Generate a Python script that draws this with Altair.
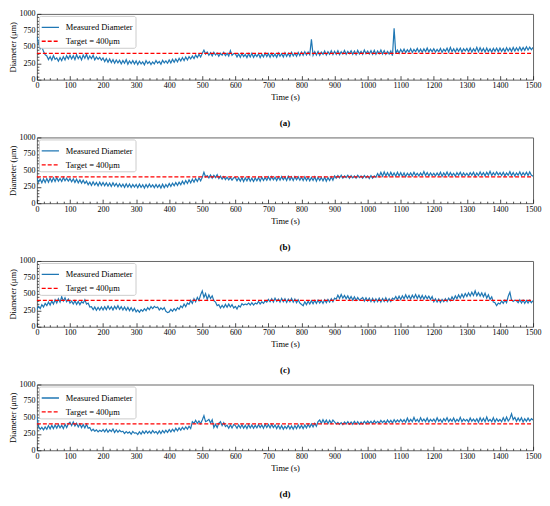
import altair as alt
import pandas as pd

# ---------------- data ----------------
time_s = list(range(0, 1501, 5))

diam_a = [
    650, 560, 470, 500, 430, 380, 360, 305, 350, 295, 365, 310, 330, 280, 335, 290, 350, 300, 365, 315,
    370, 315, 365, 305, 380, 320, 360, 300, 375, 325, 385, 310, 360, 320, 370, 300, 345, 310, 340, 295,
    330, 275, 320, 265, 315, 260, 305, 250, 300, 255, 295, 240, 290, 250, 305, 235, 285, 245, 290, 240,
    285, 230, 280, 240, 270, 225, 290, 245, 275, 230, 270, 240, 290, 250, 275, 235, 295, 255, 285, 250,
    300, 255, 310, 265, 315, 270, 325, 285, 335, 290, 345, 300, 350, 315, 360, 320, 375, 335, 385, 345,
    400, 450, 390, 420, 370, 410, 360, 415, 375, 405, 355, 400, 370, 415, 365, 400, 360, 440, 370, 395,
    395, 345, 390, 340, 400, 350, 385, 335, 395, 345, 400, 340, 385, 350, 395, 335, 390, 345, 405, 350,
    395, 340, 400, 350, 390, 340, 405, 355, 395, 345, 410, 355, 400, 350, 415, 360, 405, 355, 415, 365,
    420, 370, 425, 375, 420, 380, 615, 370, 425, 375, 430, 370, 420, 385, 435, 375, 425, 385, 440, 380,
    430, 385, 440, 380, 425, 390, 445, 385, 430, 395, 440, 385, 435, 380, 445, 390, 430, 385, 450, 395,
    435, 390, 440, 385, 445, 385, 435, 395, 450, 390, 440, 385, 430, 390, 435, 365, 780, 395, 450, 400,
    460, 415, 465, 410, 455, 420, 470, 415, 460, 425, 475, 420, 465, 415, 470, 425, 480, 420, 465, 425,
    470, 420, 460, 425, 475, 415, 465, 430, 480, 420, 490, 425, 470, 420, 475, 430, 480, 420, 470, 435,
    475, 425, 480, 420, 470, 430, 490, 425, 485, 430, 475, 420, 480, 425, 470, 420, 475, 430, 480, 425,
    480, 430, 475, 425, 485, 435, 480, 430, 490, 435, 485, 440, 495, 440, 490, 445, 500, 450, 495, 455,
    490,
]

diam_b = [
    380, 320, 365, 310, 370, 315, 375, 320, 380, 325, 385, 330, 390, 335, 375, 330, 390, 340, 380, 335,
    375, 325, 370, 315, 365, 310, 355, 305, 350, 300, 335, 280, 320, 270, 325, 275, 315, 265, 320, 270,
    315, 265, 310, 260, 305, 255, 310, 260, 300, 250, 295, 250, 290, 240, 295, 245, 290, 240, 285, 245,
    285, 235, 290, 240, 280, 230, 285, 240, 290, 245, 280, 235, 285, 240, 280, 230, 290, 235, 285, 245,
    300, 255, 305, 265, 315, 270, 320, 280, 335, 290, 345, 300, 355, 310, 365, 320, 375, 330, 385, 340,
    395, 470, 400, 420, 385, 430, 380, 425, 390, 435, 375, 410, 365, 405, 360, 395, 355, 390, 350, 385,
    390, 340, 385, 335, 390, 330, 385, 340, 395, 335, 380, 330, 385, 340, 390, 335, 395, 345, 390, 350,
    400, 350, 405, 355, 395, 345, 400, 350, 405, 355, 400, 345, 410, 350, 400, 345, 405, 355, 400, 350,
    395, 345, 400, 345, 395, 340, 390, 345, 400, 335, 395, 345, 390, 340, 395, 335, 390, 345, 400, 350,
    415, 380, 420, 385, 425, 380, 415, 390, 425, 380, 420, 385, 415, 380, 425, 390, 415, 380, 420, 385,
    415, 375, 420, 380, 415, 395, 450, 405, 470, 410, 475, 415, 465, 410, 470, 415, 460, 410, 470, 415,
    465, 410, 460, 405, 455, 420, 460, 415, 470, 420, 455, 415, 460, 420, 480, 420, 465, 415, 460, 420,
    455, 415, 460, 420, 470, 410, 460, 420, 475, 415, 465, 420, 455, 410, 465, 425, 470, 415, 460, 420,
    455, 415, 465, 425, 470, 410, 460, 420, 475, 425, 465, 415, 470, 425, 485, 420, 465, 425, 475, 430,
    465, 420, 470, 415, 460, 425, 480, 420, 465, 415, 460, 425, 475, 420, 465, 425, 470, 420, 475, 425,
    410,
]

diam_c = [
    260, 310, 275, 335, 300, 355, 320, 375, 330, 390, 345, 410, 360, 425, 375, 455, 390, 440, 380, 420,
    360, 390, 345, 395, 340, 385, 335, 380, 360, 410, 345, 360, 300, 305, 260, 300, 250, 295, 255, 300,
    255, 305, 260, 315, 265, 305, 255, 310, 270, 320, 265, 305, 255, 300, 250, 295, 245, 290, 240, 280,
    225, 255, 220, 260, 235, 275, 245, 290, 260, 305, 275, 310, 290, 300, 255, 285, 260, 290, 235, 215,
    225, 265, 235, 275, 245, 290, 265, 315, 290, 345, 305, 360, 340, 400, 355, 425, 380, 445, 400, 485,
    545, 445, 505, 415, 485, 430, 470, 395, 375, 320, 335, 285, 325, 290, 340, 295, 345, 300, 335, 285,
    310, 270, 320, 300, 350, 330, 345, 335, 360, 330, 365, 330, 360, 345, 385, 345, 380, 355, 395, 375,
    415, 380, 425, 375, 435, 385, 420, 375, 430, 380, 425, 370, 420, 380, 430, 375, 420, 365, 410, 360,
    340, 320, 380, 335, 390, 345, 395, 350, 400, 355, 405, 360, 400, 355, 410, 365, 415, 375, 425, 380,
    435, 420, 480, 430, 490, 435, 475, 425, 470, 415, 460, 405, 455, 400, 445, 405, 425, 445, 390, 440,
    390, 435, 380, 430, 375, 425, 380, 435, 375, 430, 385, 440, 380, 425, 385, 435, 415, 460, 410, 465,
    415, 470, 425, 485, 430, 475, 420, 480, 435, 490, 430, 480, 425, 475, 420, 470, 425, 465, 415, 460,
    380, 425, 375, 420, 370, 415, 380, 425, 385, 435, 395, 455, 410, 470, 425, 485, 435, 495, 445, 505,
    460, 515, 465, 525, 475, 545, 470, 520, 465, 515, 455, 510, 435, 485, 415, 455, 375, 365, 320, 360,
    345, 390, 355, 405, 365, 465, 525, 405, 385, 405, 395, 365, 410, 360, 405, 355, 400, 360, 405, 365,
    395,
]

diam_d = [
    510, 360, 320, 350, 310, 355, 320, 375, 325, 380, 330, 385, 335, 390, 340, 380, 330, 395, 345, 400,
    425, 375, 430, 370, 410, 355, 400, 345, 390, 340, 395, 335, 345, 295, 320, 290, 310, 280, 305, 285,
    315, 280, 320, 275, 310, 285, 325, 270, 310, 275, 305, 280, 290, 255, 285, 260, 280, 245, 285, 260,
    265, 240, 280, 245, 290, 255, 295, 260, 290, 255, 300, 265, 285, 250, 295, 255, 300, 265, 305, 270,
    315, 280, 320, 285, 335, 295, 340, 305, 350, 315, 355, 320, 365, 330, 435, 410, 455, 410, 445, 405,
    460, 525, 435, 450, 470, 415, 465, 345, 395, 345, 410, 435, 375, 420, 360, 380, 335, 385, 340, 390,
    375, 335, 385, 340, 390, 335, 380, 330, 390, 340, 385, 335, 380, 340, 390, 345, 385, 335, 395, 345,
    390, 340, 395, 345, 385, 330, 380, 325, 375, 320, 365, 330, 380, 325, 370, 320, 375, 330, 385, 335,
    380, 330, 385, 340, 395, 350, 400, 355, 410, 365, 435, 460, 410, 465, 415, 460, 405, 455, 410, 460,
    430, 400, 425, 395, 420, 390, 430, 400, 435, 395, 430, 395, 440, 400, 435, 395, 430, 400, 440, 405,
    445, 410, 440, 405, 450, 415, 440, 410, 455, 420, 450, 410, 460, 420, 455, 415, 465, 425, 460, 430,
    470, 430, 465, 425, 490, 430, 470, 435, 500, 440, 470, 430, 495, 440, 475, 435, 490, 430, 470, 440,
    475, 430, 495, 440, 470, 425, 480, 445, 495, 435, 475, 440, 490, 430, 470, 440, 500, 435, 475, 445,
    470, 430, 490, 440, 475, 435, 480, 425, 495, 440, 485, 435, 505, 440, 470, 435, 495, 430, 480, 440,
    470, 435, 495, 440, 505, 445, 480, 555, 465, 500, 440, 490, 445, 495, 430, 480, 440, 490, 445, 480,
    460,
]

target_um = 400
target_t = [0, 1500]
series_names = ["Measured Diameter", "Target = 400μm"]
series_colors = ["#1f77b4", "#ff0000"]
panel_labels = ["(a)", "(b)", "(c)", "(d)"]
x_major = list(range(0, 1501, 100))
x_minor = [v for v in range(0, 1501, 20) if v % 100]
y_major = [0, 250, 500, 750, 1000]
y_minor = [v for v in range(0, 1001, 50) if v % 250]

FONT = "Liberation Serif"
W, H = 498, 66


def panel(vals, label):
    meas = pd.DataFrame({"t": time_s, "d": vals, "s": series_names[0]})
    targ = pd.DataFrame({"t": target_t, "d": [target_um] * len(target_t), "s": series_names[1]})
    xs = alt.Scale(domain=[0, 1500], nice=False, zero=False)
    ys = alt.Scale(domain=[0, 1000], nice=False)
    cs = alt.Scale(domain=series_names, range=series_colors)
    ds = alt.Scale(domain=series_names, range=[[1, 0], [4, 2]])

    x_ax = alt.Axis(orient="bottom", values=x_major, title="Time (s)", tickSize=4, offset=-4,
                    domain=False, grid=False, labelPadding=2, format="d", titlePadding=3,
                    labelFlush=False)
    y_ax = alt.Axis(orient="left", values=y_major, title="Diameter (μm)", tickSize=4, offset=-4,
                    domain=False, grid=False, labelPadding=2, format="d", titlePadding=1)
    leg = alt.Legend(title=None)

    measured = alt.Chart(meas).mark_line(strokeWidth=1.2, clip=True).encode(
        x=alt.X("t:Q", scale=xs, axis=x_ax),
        y=alt.Y("d:Q", scale=ys, axis=y_ax),
        color=alt.Color("s:N", scale=cs, legend=leg),
        strokeDash=alt.StrokeDash("s:N", scale=ds, legend=leg),
    )
    target = alt.Chart(targ).mark_line(strokeWidth=1.3).encode(
        x=alt.X("t:Q", scale=xs, axis=None),
        y=alt.Y("d:Q", scale=ys, axis=None),
        color=alt.Color("s:N", scale=cs, legend=leg),
        strokeDash=alt.StrokeDash("s:N", scale=ds, legend=leg),
    )
    minor = alt.Chart(meas).mark_line(strokeOpacity=0).encode(
        x=alt.X("t:Q", scale=xs, axis=alt.Axis(orient="bottom", values=x_minor, tickSize=2, offset=-2,
                                               labels=False, title=None, domain=False, grid=False)),
        y=alt.Y("d:Q", scale=ys, axis=alt.Axis(orient="left", values=y_minor, tickSize=2, offset=-2,
                                               labels=False, title=None, domain=False, grid=False)),
    )
    return alt.layer(measured, target, minor).resolve_axis(x="independent", y="independent").properties(
        width=W, height=H,
        title=alt.TitleParams(label, orient="bottom", anchor="middle", frame="group", fontSize=9,
                              fontWeight="bold", font=FONT, offset=18),
    )


panels = [panel(v, l) for v, l in zip([diam_a, diam_b, diam_c, diam_d], panel_labels)]

chart = alt.vconcat(*panels, spacing=4).resolve_scale(
    color="independent", strokeDash="independent"
).resolve_legend(
    color="independent", strokeDash="independent"
).properties(
    padding={"left": 0, "top": 0, "right": 0, "bottom": 0}
).configure_view(
    stroke="#666666", strokeWidth=1
).configure_axis(
    labelFont=FONT, labelFontSize=8, labelColor="black",
    titleFont=FONT, titleFontSize=8.5, titleFontWeight="normal", titleColor="black",
    tickColor="#222222", tickWidth=0.8,
).configure_legend(
    orient="top-left", offset=2, padding=2, rowPadding=-5,
    fillColor="white", strokeColor="#cccccc", cornerRadius=2,
    symbolType="stroke", symbolSize=300, symbolStrokeWidth=1.4,
    labelFont=FONT, labelFontSize=8.5, labelColor="black", labelOffset=6,
)

chart.save("out.html", embed_options={"renderer": "svg", "actions": False})
